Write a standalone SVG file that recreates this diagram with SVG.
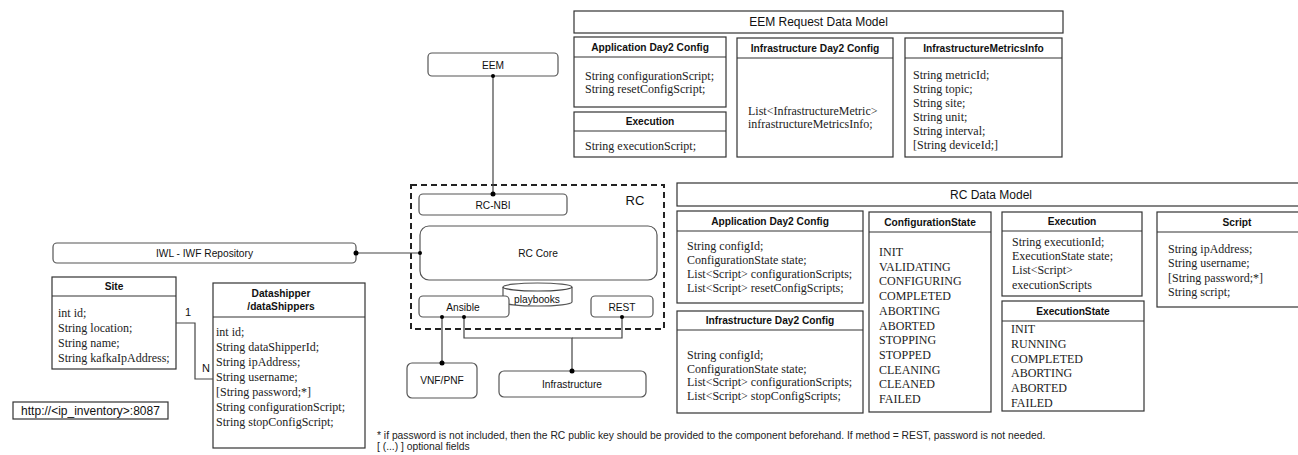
<svg xmlns="http://www.w3.org/2000/svg" width="1298" height="455" viewBox="0 0 1298 455">
  <style>
    .box { fill: #fff; stroke: #333; stroke-width: 1.2; }
    .rbox { fill: #fff; stroke: #555; stroke-width: 1.2; }
    .sep { stroke: #333; stroke-width: 1.2; }
    .hdr { font-family: "Liberation Sans", Arial, sans-serif; font-size: 10.2px; font-weight: bold; fill: #111; text-anchor: middle; }
    .ttl { font-family: "Liberation Sans", Arial, sans-serif; font-size: 12px; fill: #111; text-anchor: middle; }
    .lbl { font-family: "Liberation Sans", Arial, sans-serif; font-size: 10.2px; fill: #111; text-anchor: middle; }
    .fld { font-family: "Liberation Serif", "Times New Roman", serif; font-size: 12px; fill: #222; }
    .note { font-family: "Liberation Sans", Arial, sans-serif; font-size: 10.3px; fill: #222; }
    .wire { fill: none; stroke: #444; stroke-width: 1.2; }
    .dot { fill: #000; }
  </style>

  <!-- EEM request data model -->
  <g id="eem-data-model">
    <rect class="box" x="574" y="11" width="489" height="22"/>
    <text class="ttl" x="818.5" y="26">EEM Request Data Model</text>
  </g>
  <g id="eem-app-day2-config">
    <rect class="box" x="574" y="37" width="152" height="70"/>
    <line class="sep" x1="574" y1="57" x2="726" y2="57"/>
    <text class="hdr" x="650" y="51">Application Day2 Config</text>
    <text class="fld" x="585" y="80">String configurationScript;</text>
    <text class="fld" x="585" y="93">String resetConfigScript;</text>
  </g>
  <g id="eem-execution">
    <rect class="box" x="574" y="112" width="152" height="45"/>
    <line class="sep" x1="574" y1="131" x2="726" y2="131"/>
    <text class="hdr" x="650" y="125">Execution</text>
    <text class="fld" x="585" y="150">String executionScript;</text>
  </g>
  <g id="eem-infra-day2-config">
    <rect class="box" x="737" y="38" width="156" height="119"/>
    <line class="sep" x1="737" y1="58" x2="893" y2="58"/>
    <text class="hdr" x="815" y="52">Infrastructure Day2 Config</text>
    <text class="fld" x="748" y="115">List&lt;InfrastructureMetric&gt;</text>
    <text class="fld" x="748" y="128">infrastructureMetricsInfo;</text>
  </g>
  <g id="eem-infra-metrics-info">
    <rect class="box" x="905" y="38" width="157" height="119"/>
    <line class="sep" x1="905" y1="58" x2="1062" y2="58"/>
    <text class="hdr" x="983.5" y="52">InfrastructureMetricsInfo</text>
    <text class="fld" x="913" y="79">String metricId;</text>
    <text class="fld" x="913" y="93">String topic;</text>
    <text class="fld" x="913" y="107">String site;</text>
    <text class="fld" x="913" y="121">String unit;</text>
    <text class="fld" x="913" y="135">String interval;</text>
    <text class="fld" x="913" y="149">[String deviceId;]</text>
  </g>

  <!-- RC data model -->
  <g id="rc-data-model">
    <rect class="box" x="677" y="183" width="628" height="23"/>
    <text class="ttl" x="991" y="199">RC Data Model</text>
  </g>
  <g id="rc-app-day2-config">
    <rect class="box" x="677" y="211" width="186" height="92"/>
    <line class="sep" x1="677" y1="231" x2="863" y2="231"/>
    <text class="hdr" x="770" y="225">Application Day2 Config</text>
    <text class="fld" x="687" y="250">String configId;</text>
    <text class="fld" x="687" y="264">ConfigurationState state;</text>
    <text class="fld" x="687" y="278">List&lt;Script&gt; configurationScripts;</text>
    <text class="fld" x="687" y="292">List&lt;Script&gt; resetConfigScripts;</text>
  </g>
  <g id="rc-infra-day2-config">
    <rect class="box" x="677" y="311" width="186" height="102"/>
    <line class="sep" x1="677" y1="330" x2="863" y2="330"/>
    <text class="hdr" x="770" y="324">Infrastructure Day2 Config</text>
    <text class="fld" x="687" y="359">String configId;</text>
    <text class="fld" x="687" y="372.5">ConfigurationState state;</text>
    <text class="fld" x="687" y="386">List&lt;Script&gt; configurationScripts;</text>
    <text class="fld" x="687" y="399.5">List&lt;Script&gt; stopConfigScripts;</text>
  </g>
  <g id="rc-configuration-state">
    <rect class="box" x="869" y="212" width="122" height="200"/>
    <line class="sep" x1="869" y1="232" x2="991" y2="232"/>
    <text class="hdr" x="930" y="226">ConfigurationState</text>
    <text class="fld" x="879" y="256">INIT</text>
    <text class="fld" x="879" y="270.7">VALIDATING</text>
    <text class="fld" x="879" y="285.4">CONFIGURING</text>
    <text class="fld" x="879" y="300.1">COMPLETED</text>
    <text class="fld" x="879" y="314.8">ABORTING</text>
    <text class="fld" x="879" y="329.5">ABORTED</text>
    <text class="fld" x="879" y="344.2">STOPPING</text>
    <text class="fld" x="879" y="358.9">STOPPED</text>
    <text class="fld" x="879" y="373.6">CLEANING</text>
    <text class="fld" x="879" y="388.3">CLEANED</text>
    <text class="fld" x="879" y="403">FAILED</text>
  </g>
  <g id="rc-execution">
    <rect class="box" x="1002" y="212" width="140" height="84"/>
    <line class="sep" x1="1002" y1="231" x2="1142" y2="231"/>
    <text class="hdr" x="1072" y="225">Execution</text>
    <text class="fld" x="1012" y="246">String executionId;</text>
    <text class="fld" x="1012" y="260">ExecutionState state;</text>
    <text class="fld" x="1012" y="274">List&lt;Script&gt;</text>
    <text class="fld" x="1012" y="289">executionScripts</text>
  </g>
  <g id="rc-execution-state">
    <rect class="box" x="1002" y="301" width="142" height="110"/>
    <line class="sep" x1="1002" y1="321" x2="1144" y2="321"/>
    <text class="hdr" x="1073" y="315">ExecutionState</text>
    <text class="fld" x="1011" y="333">INIT</text>
    <text class="fld" x="1011" y="347.8">RUNNING</text>
    <text class="fld" x="1011" y="362.6">COMPLETED</text>
    <text class="fld" x="1011" y="377.4">ABORTING</text>
    <text class="fld" x="1011" y="392.2">ABORTED</text>
    <text class="fld" x="1011" y="407">FAILED</text>
  </g>
  <g id="rc-script">
    <rect class="box" x="1157" y="212" width="160" height="95"/>
    <line class="sep" x1="1157" y1="232" x2="1317" y2="232"/>
    <text class="hdr" x="1237" y="226">Script</text>
    <text class="fld" x="1168" y="253">String ipAddress;</text>
    <text class="fld" x="1168" y="267">String username;</text>
    <text class="fld" x="1168" y="282">[String password;*]</text>
    <text class="fld" x="1168" y="296">String script;</text>
  </g>

  <!-- inventory side -->
  <g id="iwl-repository">
    <rect class="rbox" x="53" y="243" width="303" height="20" rx="4"/>
    <text class="lbl" x="204.5" y="257">IWL - IWF Repository</text>
  </g>
  <g id="site">
    <rect class="box" x="52" y="277" width="124" height="92"/>
    <line class="sep" x1="52" y1="296" x2="176" y2="296"/>
    <text class="hdr" x="114" y="290">Site</text>
    <text class="fld" x="58" y="317">int id;</text>
    <text class="fld" x="58" y="332">String location;</text>
    <text class="fld" x="58" y="347">String name;</text>
    <text class="fld" x="58" y="362">String kafkaIpAddress;</text>
  </g>
  <g id="datashipper">
    <rect class="box" x="213" y="283" width="152" height="165"/>
    <line class="sep" x1="213" y1="317" x2="365" y2="317"/>
    <text class="hdr" x="281" y="297">Datashipper</text>
    <text class="hdr" x="281" y="310">/dataShippers</text>
    <text class="fld" x="216" y="336">int id;</text>
    <text class="fld" x="216" y="351">String dataShipperId;</text>
    <text class="fld" x="216" y="366">String ipAddress;</text>
    <text class="fld" x="216" y="381">String username;</text>
    <text class="fld" x="216" y="396">[String password;*]</text>
    <text class="fld" x="216" y="411">String configurationScript;</text>
    <text class="fld" x="216" y="426">String stopConfigScript;</text>
  </g>
  <g id="inventory-url">
    <rect class="box" x="13" y="402" width="155" height="17"/>
    <text class="ttl" x="90.5" y="415">http://&lt;ip_inventory&gt;:8087</text>
  </g>

  <!-- RC component -->
  <g id="eem">
    <rect class="rbox" x="428" y="53" width="130" height="23" rx="4"/>
    <text class="lbl" x="493" y="68.5">EEM</text>
  </g>
  <g id="rc">
    <rect x="411" y="185" width="253" height="144" fill="none" stroke="#222" stroke-width="2" stroke-dasharray="6 4"/>
    <text class="ttl" x="635" y="205" style="font-size:13px">RC</text>
  </g>
  <g id="rc-nbi">
    <rect class="rbox" x="419" y="194" width="148" height="21" rx="4"/>
    <text class="lbl" x="493" y="208.5">RC-NBI</text>
  </g>
  <g id="rc-core">
    <rect class="rbox" x="420" y="226" width="237" height="54" rx="9"/>
    <text class="lbl" x="538" y="256.5">RC Core</text>
  </g>
  <g id="playbooks">
    <path class="rbox" d="M503,287 A34.5,4 0 0,1 572,287 V302 A34.5,4 0 0,1 503,302 Z"/>
    <path class="wire" d="M503,287 A34.5,4 0 0,0 572,287" stroke="#555"/>
    <text class="lbl" x="537" y="302.5">playbooks</text>
  </g>
  <g id="ansible">
    <rect class="rbox" x="419" y="296" width="90" height="21" rx="4"/>
    <text class="lbl" x="463" y="310.5">Ansible</text>
  </g>
  <g id="rest">
    <rect class="rbox" x="591" y="296" width="62" height="21" rx="4"/>
    <text class="lbl" x="622" y="310.5">REST</text>
  </g>
  <g id="vnf-pnf">
    <rect class="rbox" x="407" y="363" width="70" height="35" rx="5"/>
    <text class="lbl" x="442" y="384">VNF/PNF</text>
  </g>
  <g id="infrastructure">
    <rect class="rbox" x="499" y="371" width="147" height="26" rx="5"/>
    <text class="lbl" x="572" y="387.5">Infrastructure</text>
  </g>

  <!-- connectors -->
  <g id="connectors">
    <path class="wire" d="M493,76 V194"/>
    <path class="wire" d="M356,253 H420"/>
    <path class="wire" d="M442,317 V363"/>
    <path class="wire" d="M572,371 V338 H464 V317"/>
    <path class="wire" d="M572,338 H622 V317"/>
    <path class="wire" d="M176,323 H195 V379 H213"/>
    <circle class="dot" cx="493" cy="76" r="2"/>
    <circle class="dot" cx="493" cy="194" r="2.5"/>
    <circle class="dot" cx="356" cy="253" r="2.5"/>
    <circle class="dot" cx="420" cy="253" r="2"/>
    <circle class="dot" cx="442" cy="317" r="2"/>
    <circle class="dot" cx="442" cy="363" r="2.5"/>
    <circle class="dot" cx="464" cy="317" r="2"/>
    <circle class="dot" cx="622" cy="317" r="2"/>
    <circle class="dot" cx="572" cy="371" r="2.5"/>
    <text class="lbl" x="188" y="316" style="font-size:11px">1</text>
    <text class="lbl" x="206" y="372" style="font-size:11px">N</text>
  </g>

  <!-- footnotes -->
  <text class="note" x="377" y="439">* if password is not included, then the RC public key should be provided to the component beforehand. If method = REST, password is not needed.</text>
  <text class="note" x="377" y="450">[ (...) ] optional fields</text>
</svg>
